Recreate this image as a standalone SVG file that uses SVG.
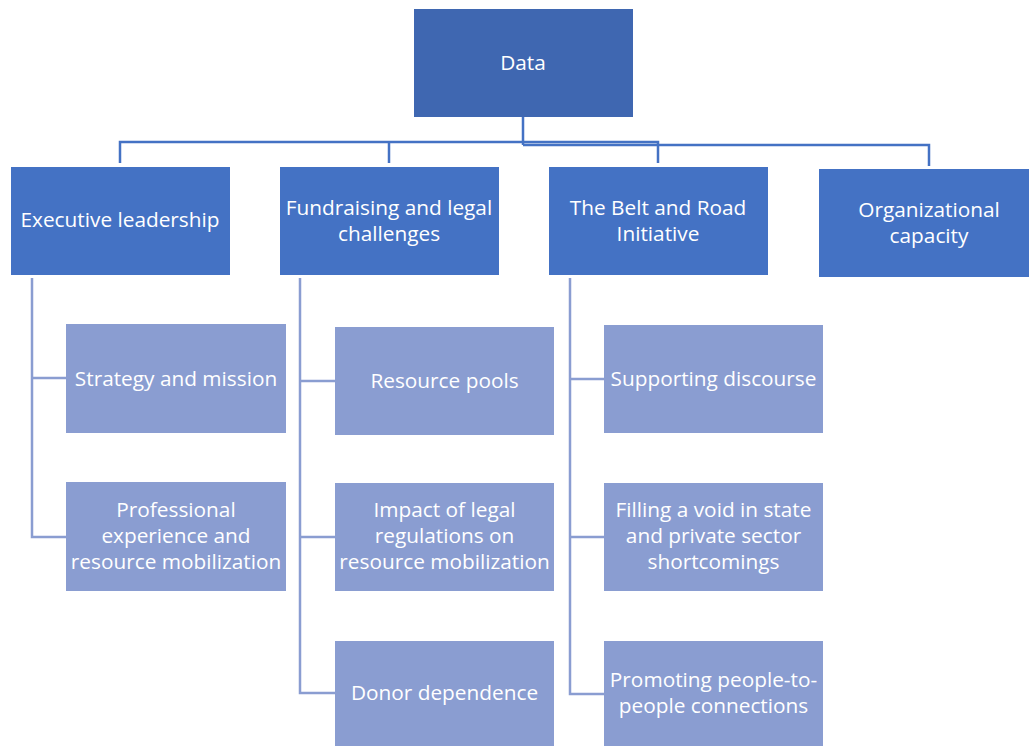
<svg xmlns="http://www.w3.org/2000/svg" width="1029" height="746" viewBox="0 0 1029 746">
<style>
.top{fill:#3F67B1}
.l1{fill:#4472C4}
.l2{fill:#8A9DD1}
.c1{stroke:#4472C4;stroke-width:2.5;fill:none}
.c2{stroke:#8A9DD1;stroke-width:2.5;fill:none}
text{font-family:"Open Sans","Liberation Sans",sans-serif;font-size:20.8px;fill:#fff;text-anchor:middle}
</style>
<rect width="1029" height="746" fill="#fff"/>
<g id="connectors">
<path class="c1" d="M523,117 V145 M120,163 V142 H658 V163 M389,142 V163 M523,145 H929 V166"/>
<path class="c2" d="M32,278 V537 H66 M32,378 H66"/>
<path class="c2" d="M300,278 V693 H335 M300,381 H335 M300,537 H335"/>
<path class="c2" d="M570,278 V694 H604 M570,379 H604 M570,537 H604"/>
</g>
<g id="data"><rect class="top" x="414" y="9" width="219" height="108"/><text x="523" y="70">Data</text></g>
<g id="executive"><rect class="l1" x="11" y="167" width="219" height="108"/><text x="120" y="227">Executive leadership</text></g>
<g id="fundraising"><rect class="l1" x="280" y="167" width="219" height="108"/><text x="389" y="215">Fundraising and legal</text><text x="389" y="241">challenges</text></g>
<g id="belt"><rect class="l1" x="549" y="167" width="219" height="108"/><text x="658" y="215">The Belt and Road</text><text x="658" y="241">Initiative</text></g>
<g id="org"><rect class="l1" x="819" y="169" width="210" height="108"/><text x="929" y="217">Organizational</text><text x="929" y="243">capacity</text></g>
<g id="strategy"><rect class="l2" x="66" y="324" width="220" height="109"/><text x="176" y="386">Strategy and mission</text></g>
<g id="professional"><rect class="l2" x="66" y="482" width="220" height="109"/><text x="176" y="517">Professional</text><text x="176" y="543">experience and</text><text x="176" y="569">resource mobilization</text></g>
<g id="pools"><rect class="l2" x="335" y="327" width="219" height="108"/><text x="444.5" y="388">Resource pools</text></g>
<g id="impact"><rect class="l2" x="335" y="483" width="219" height="108"/><text x="444.5" y="517">Impact of legal</text><text x="444.5" y="543">regulations on</text><text x="444.5" y="569">resource mobilization</text></g>
<g id="donor"><rect class="l2" x="335" y="641" width="219" height="105"/><text x="444.5" y="700">Donor dependence</text></g>
<g id="supporting"><rect class="l2" x="604" y="325" width="219" height="108"/><text x="713.5" y="386">Supporting discourse</text></g>
<g id="filling"><rect class="l2" x="604" y="483" width="219" height="108"/><text x="713.5" y="517">Filling a void in state</text><text x="713.5" y="543">and private sector</text><text x="713.5" y="569">shortcomings</text></g>
<g id="promoting"><rect class="l2" x="604" y="641" width="219" height="105"/><text x="713.5" y="687">Promoting people-to-</text><text x="713.5" y="713">people connections</text></g>
</svg>
